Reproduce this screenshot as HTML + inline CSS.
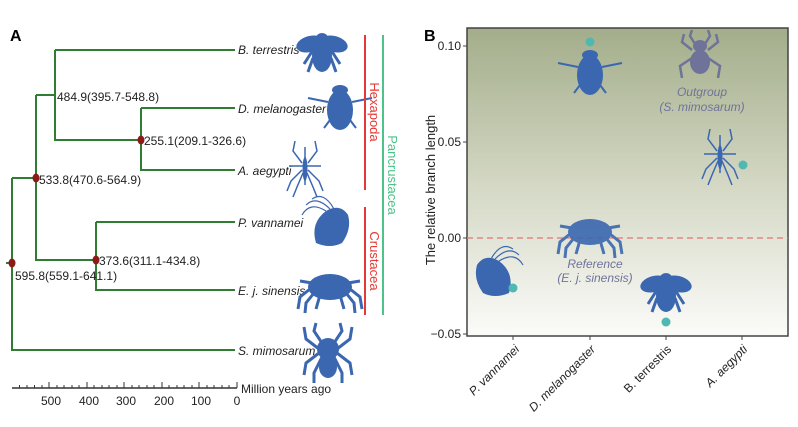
<!DOCTYPE html>
<html><head><meta charset="utf-8"><style>
body{margin:0;background:#fff;}
svg{display:block;font-family:"Liberation Sans",sans-serif;}
</style></head><body>
<svg width="798" height="427" viewBox="0 0 798 427">
<defs>
<linearGradient id="g" x1="0" y1="0" x2="0" y2="1">
<stop offset="0" stop-color="#a3ad8a"/><stop offset="0.5" stop-color="#d3d7c3"/><stop offset="1" stop-color="#fbfbf9"/>
</linearGradient>
<g id="bee"><ellipse cx="-12" cy="-6" rx="14" ry="8" fill="#3a67b0" transform="rotate(-15 -12 -6)"/><ellipse cx="12" cy="-6" rx="14" ry="8" fill="#3a67b0" transform="rotate(15 12 -6)"/><ellipse cx="0" cy="-12" rx="6" ry="5" fill="#3a67b0"/><ellipse cx="0" cy="6" rx="10" ry="16" fill="#3a67b0"/><path d="M-9 0 L-18 14 M9 0 L18 14 M-9 8 L-14 22 M9 8 L14 22" stroke="#3a67b0" stroke-width="3" fill="none"/></g>
<g id="fly"><ellipse cx="0" cy="0" rx="13" ry="20" fill="#3a67b0"/><ellipse cx="0" cy="-20" rx="8" ry="5" fill="#3a67b0"/><path d="M-12 -8 L-32 -12 M12 -8 L32 -12 M-10 10 L-16 18 M10 10 L16 18" stroke="#3a67b0" stroke-width="2" fill="none"/></g>
<g id="mos"><path d="M0 -20 L0 18 M-16 -1 L16 -1 M-3 -4 L-12 -16 L-10 -26 M3 -4 L12 -16 L10 -26 M-3 3 L-14 14 L-18 24 M3 3 L14 14 L18 24 M-2 6 L-8 20 L-12 30 M2 6 L8 20 L12 30" stroke="#3a67b0" stroke-width="1.5" fill="none"/><ellipse cx="0" cy="2" rx="2.5" ry="12" fill="#3a67b0"/></g>
<g id="crab"><ellipse cx="0" cy="0" rx="22" ry="13" fill="#3a67b0"/><path d="M-20 2 L-30 10 L-32 22 M20 2 L30 10 L32 22 M-16 6 L-24 16 L-25 26 M16 6 L24 16 L25 26 M-10 8 L-14 22 M10 8 L14 22 M-18 -4 L-30 -6 M18 -4 L30 -6" stroke="#3a67b0" stroke-width="3" fill="none"/></g>
<g id="spider"><ellipse cx="0" cy="-6" rx="11" ry="11" fill="#3a67b0"/><ellipse cx="0" cy="12" rx="9" ry="11" fill="#3a67b0"/><path d="M-6 -12 L-14 -24 L-12 -32 M6 -12 L14 -24 L12 -32 M-9 -6 L-22 -16 L-24 -28 M9 -6 L22 -16 L24 -28 M-9 -2 L-22 8 L-24 20 M9 -2 L22 8 L24 20 M-6 2 L-14 18 L-14 28 M6 2 L14 18 L14 28" stroke="#3a67b0" stroke-width="3" fill="none"/></g>
<g id="shrimp"><path d="M-14 18 Q-20 -2 -4 -14 Q10 -22 18 -10 Q22 4 12 18 Q0 24 -14 18Z" fill="#3a67b0"/><path d="M-4 -14 Q-20 -24 -28 -10 M0 -16 Q-14 -30 -24 -20 M4 -16 Q-6 -34 -18 -26" stroke="#3a67b0" stroke-width="1.2" fill="none"/></g>
</defs>

<!-- Panel A -->
<text x="10" y="41" font-size="16" font-weight="bold">A</text>
<g stroke="#2e7d32" stroke-width="2" fill="none">
<path d="M55 50 H235 M55 50 V140 H141 M141 108 H235 M141 108 V170 H235 M36 95 H55 M36 95 V260 H96 M96 222 H235 M96 222 V290 H235 M12 178 H36 M12 178 V350 H235 M6 263 H12"/>
</g>
<g fill="#8b1a1a"><ellipse cx="141" cy="140" rx="3.5" ry="4.5"/><ellipse cx="36" cy="178" rx="3.5" ry="4.5"/><ellipse cx="96" cy="260" rx="3.5" ry="4.5"/><ellipse cx="12" cy="263" rx="3.5" ry="4.5"/></g>
<g font-size="12" fill="#222">
<text x="57" y="101">484.9(395.7-548.8)</text>
<text x="144" y="145">255.1(209.1-326.6)</text>
<text x="39" y="184">533.8(470.6-564.9)</text>
<text x="99" y="265">373.6(311.1-434.8)</text>
<text x="15" y="280">595.8(559.1-641.1)</text>
</g>
<g font-size="12" font-style="italic" fill="#222">
<text x="238" y="54">B. terrestris</text>
<text x="238" y="113">D. melanogaster</text>
<text x="238" y="175">A. aegypti</text>
<text x="238" y="227">P. vannamei</text>
<text x="238" y="295">E. j. sinensis</text>
<text x="238" y="355">S. mimosarum</text>
</g>
<use href="#bee" x="322" y="50"/>
<use href="#fly" x="340" y="110"/>
<use href="#mos" x="305" y="167"/>
<use href="#shrimp" x="330" y="225"/>
<use href="#crab" x="330" y="287"/>
<use href="#spider" x="328" y="355"/>
<path d="M365 35 V190 M365 207 V315" stroke="#e53935" stroke-width="2"/>
<path d="M383 35 V315" stroke="#4cc38a" stroke-width="2"/>
<text transform="translate(370,112) rotate(90)" text-anchor="middle" font-size="13" fill="#e53935">Hexapoda</text>
<text transform="translate(370,261) rotate(90)" text-anchor="middle" font-size="13" fill="#e53935">Crustacea</text>
<text transform="translate(388,175) rotate(90)" text-anchor="middle" font-size="13" fill="#4cc38a">Pancrustacea</text>
<path d="M12 388 H237" stroke="#333" stroke-width="1.5"/>
<g stroke="#333" stroke-width="1">
<path d="M49 382 V388 M87 382 V388 M124 382 V388 M162 382 V388 M199 382 V388 M237 382 V388"/>
<path d="M19.5 385 V388 M27 385 V388 M34.5 385 V388 M42 385 V388 M57 385 V388 M64 385 V388 M72 385 V388 M79 385 V388 M94 385 V388 M102 385 V388 M109 385 V388 M117 385 V388 M132 385 V388 M139 385 V388 M147 385 V388 M154 385 V388 M169 385 V388 M177 385 V388 M184 385 V388 M192 385 V388 M207 385 V388 M214 385 V388 M222 385 V388 M229 385 V388"/>
</g>
<g font-size="12" fill="#222" text-anchor="middle">
<text x="51" y="405">500</text><text x="89" y="405">400</text><text x="126" y="405">300</text><text x="164" y="405">200</text><text x="201" y="405">100</text><text x="237" y="405">0</text>
</g>
<text x="241" y="393" font-size="12" fill="#222">Million years ago</text>

<!-- Panel B -->
<text x="424" y="41" font-size="16" font-weight="bold">B</text>
<rect x="467" y="28" width="321" height="308" fill="url(#g)" stroke="#444" stroke-width="1.5"/>
<path d="M467 238 H788" stroke="#e57373" stroke-width="1.2" stroke-dasharray="6,4"/>
<g stroke="#444"><path d="M463 46 H467 M463 142 H467 M463 238 H467 M463 334 H467 M513 336 V340 M590 336 V340 M666 336 V340 M742 336 V340"/></g>
<g font-size="12" fill="#222" text-anchor="end">
<text x="461" y="50">0.10</text><text x="461" y="146">0.05</text><text x="461" y="242">0.00</text><text x="461" y="338">−0.05</text>
</g>
<text transform="translate(435,190) rotate(-90)" text-anchor="middle" font-size="13" fill="#222">The relative branch length</text>
<g font-size="12" fill="#222" text-anchor="end">
<text transform="translate(520,350) rotate(-45)" font-style="italic">P. vannamei</text>
<text transform="translate(596,350) rotate(-45)"><tspan font-style="italic">D. melanogaster</tspan></text>
<text transform="translate(672,350) rotate(-45)">B. terrestris</text>
<text transform="translate(748,350) rotate(-45)" font-style="italic">A. aegypti</text>
</g>
<use href="#fly" x="590" y="75"/>
<use href="#mos" x="720" y="155"/>
<use href="#shrimp" transform="translate(495,275) scale(-1,1)"/>
<use href="#bee" x="666" y="290"/>
<g opacity="0.9"><use href="#crab" x="590" y="232" style="fill:#6f7399"/></g>
<g fill="#6f7399"><ellipse cx="700" cy="62" rx="10" ry="12"/><ellipse cx="700" cy="46" rx="7" ry="6"/><path d="M692 50 L682 42 L684 34 M708 50 L718 42 L716 34 M692 58 L680 66 L682 78 M708 58 L720 66 L718 78 M695 44 L690 36 L692 30 M705 44 L710 36 L708 30" stroke="#6f7399" stroke-width="2.5" fill="none"/></g>
<g font-size="12" font-style="italic" fill="#6f7399" text-anchor="middle">
<text x="702" y="96">Outgroup</text><text x="702" y="111">(S. mimosarum)</text>
<text x="595" y="268">Reference</text><text x="595" y="282">(E. j. sinensis)</text>
</g>
<g fill="#4fb8b0"><circle cx="590" cy="42" r="4.5"/><circle cx="743" cy="165" r="4.5"/><circle cx="513" cy="288" r="4.5"/><circle cx="666" cy="322" r="4.5"/></g>
</svg>
</body></html>
